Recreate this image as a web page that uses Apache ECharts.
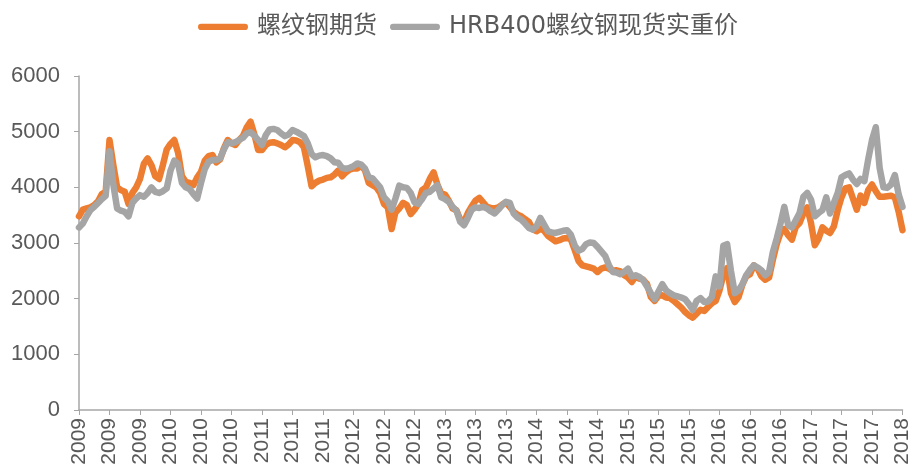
<!DOCTYPE html>
<html>
<head>
<meta charset="utf-8">
<title>螺纹钢期货与现货</title>
<script src="https://cdn.jsdelivr.net/npm/echarts@6/dist/echarts.min.js"></script>
<style>
	html, body { margin: 0; padding: 0; background: #fff; }
	#main { width: 913px; height: 473px; }
</style>
</head>
<body>
<div id="main"></div>
<script>
	var colorList = ['#ED7D31', '#A5A5A5'];
	var seriesNames = ['螺纹钢期货', 'HRB400螺纹钢现货实重价'];
	/*半月一个点, 2009年3月起*/
	var startYear = 2009;
	var startMonth = 3;
	var yTicks = [0, 1000, 2000, 3000, 4000, 5000, 6000];
	/* 螺纹钢期货 */
	var futures = [
		3480, 3600, 3620, 3640, 3680, 3750, 3880, 3920, 4850, 4400, 4000, 3950,
		3920, 3700, 3900, 4000, 4150, 4420, 4520, 4400, 4200, 4150, 4400, 4680,
		4780, 4850, 4620, 4200, 4100, 4080, 4040, 4180, 4280, 4480, 4560, 4580,
		4450, 4500, 4700, 4850, 4790, 4760, 4850, 4920, 5080, 5180, 4950, 4670,
		4670, 4760, 4800, 4810, 4790, 4760, 4720, 4770, 4850, 4840, 4810, 4720,
		4380, 4020, 4080, 4120, 4140, 4170, 4180, 4230, 4300, 4200, 4270, 4320,
		4340, 4340, 4390, 4310, 4080, 4040, 4000, 3900, 3700, 3640, 3250, 3550,
		3620, 3720, 3680, 3520, 3600, 3700, 3950, 4000, 4150, 4270, 4050, 3890,
		3870, 3760, 3620, 3590, 3420, 3380, 3540, 3660, 3760, 3810, 3730, 3650,
		3630, 3620, 3640, 3690, 3730, 3650, 3560, 3510, 3480, 3430, 3380, 3250,
		3210, 3260, 3220, 3130, 3080, 3030, 3050, 3080, 3090, 3070, 2880, 2680,
		2600, 2580, 2560, 2540, 2480, 2540, 2560, 2540, 2500, 2510, 2490, 2420,
		2380, 2300, 2400, 2360, 2340, 2260, 2030, 1960, 2050, 2060, 2020, 2010,
		1960, 1900, 1840, 1760, 1700, 1660, 1730, 1800, 1780, 1850, 1920, 1960,
		2150, 2420, 2550, 2100, 1940, 2030, 2250, 2400, 2440, 2600, 2540, 2400,
		2340, 2380, 2700, 2980, 3180, 3250, 3140, 3060, 3290, 3360, 3530, 3640,
		3360, 2960, 3080, 3280, 3220, 3180, 3300, 3590, 3820, 3980, 4000, 3800,
		3600, 3850, 3720, 3950, 4050, 3930, 3830, 3830, 3840, 3850, 3820, 3560, 3230
	];
	/* HRB400螺纹钢现货实重价 */
	var spot = [
		3280, 3350, 3480, 3590, 3650, 3720, 3790, 3850, 4650, 4050, 3620, 3580,
		3560, 3480, 3720, 3800, 3860, 3830, 3900, 4000, 3920, 3900, 3930, 3980,
		4300, 4480, 4420, 4080, 4000, 3970, 3880, 3800, 4080, 4330, 4460, 4490,
		4490, 4520, 4680, 4810, 4790, 4810, 4850, 4890, 4970, 4990, 4930, 4850,
		4760, 4940, 5040, 5050, 5030, 4970, 4920, 4950, 5030, 5000, 4960, 4920,
		4790, 4600, 4540, 4570, 4580, 4560, 4520, 4450, 4440, 4350, 4330, 4350,
		4380, 4430, 4410, 4340, 4180, 4160, 4080, 4000, 3820, 3750, 3600, 3800,
		4030, 4000, 3990, 3900, 3730, 3700, 3790, 3900, 3920, 3980, 4040, 3820,
		3790, 3740, 3650, 3580, 3380, 3320, 3450, 3600, 3640, 3630, 3650, 3620,
		3570, 3530, 3600, 3680, 3740, 3720, 3530, 3460, 3420, 3350, 3270, 3240,
		3300, 3450, 3330, 3210, 3190, 3180, 3200, 3220, 3230, 3150, 2960, 2860,
		2890, 2980, 3010, 3000, 2930, 2850, 2770, 2600, 2480, 2470, 2440, 2480,
		2540, 2400, 2420, 2390, 2330, 2220, 2100, 1990, 2130, 2260, 2150, 2100,
		2060, 2040, 2020, 1990, 1900, 1800, 1960, 2010, 1940, 1950, 2030, 2400,
		2220, 2950, 2980, 2500, 2100, 2150, 2260, 2420, 2520, 2600, 2560, 2510,
		2420, 2480, 2840, 3080, 3350, 3650, 3320, 3280, 3410, 3540, 3830, 3900,
		3780, 3480, 3540, 3590, 3820, 3530, 3720, 3900, 4180, 4220, 4250, 4140,
		4060, 4150, 4110, 4500, 4850, 5080, 4350, 4000, 3990, 4050, 4220, 3870, 3650
	];

	function createDates(n) {
		var result = [];
		for(var i = 0; i < n; i++) {
			var m = startMonth - 1 + Math.floor(i / 2);
			var y = startYear + Math.floor(m / 12);
			var mm = m % 12 + 1;
			result.push(y + '-' + (mm < 10 ? '0' + mm : mm) + (i % 2 ? '-16' : '-01'));
		}
		return result;
	}
	var dates = createDates(futures.length);

	function createSeries(list) {
		var result = [];
		for(var i = 0; i < list.length; i++) {
			result.push({
				name: seriesNames[i],
				type: 'line',
				symbol: 'none',
				smooth: false,
				data: list[i],
				itemStyle: { color: colorList[i] },
				lineStyle: {
					color: colorList[i],
					width: 6.5,
					cap: 'round',
					join: 'round'
				}
			});
		}
		return result;
	}

	var font = '"Liberation Sans", "Noto Sans CJK SC", sans-serif';
	// 图例用圆头粗线
	var legendIcon = 'path://M3,0L45,0A3,3,0,0,1,45,6L3,6A3,3,0,0,1,3,0Z';
	var option = {
		backgroundColor: '#ffffff',
		animation: false,
		legend: {
			top: 10,
			left: 193,
			icon: legendIcon,
			itemWidth: 50,
			itemHeight: 7,
			itemGap: 13,
			textStyle: {
				fontFamily: '"DejaVu Sans", "Noto Sans CJK SC", sans-serif',
				fontSize: 24,
				color: '#595959',
				padding: [0, 0, 0, 4]
			},
			data: seriesNames
		},
		grid: {
			left: 79,
			right: 2,
			top: 76,
			bottom: 63
		},
		xAxis: {
			type: 'category',
			boundaryGap: false,
			data: dates,
			axisLine: { lineStyle: { color: '#A6A6A6', width: 1.5 } },
			axisTick: { show: true, interval: 7, length: 5, lineStyle: { color: '#A6A6A6' } },
			axisLabel: {
				interval: 7,
				rotate: 90,
				margin: 8,
				fontSize: 21,
				fontFamily: font,
				color: '#595959',
				formatter: function(value) {
					return value.substring(0, 4);
				}
			},
			splitLine: { show: false }
		},
		yAxis: {
			type: 'value',
			min: yTicks[0],
			max: yTicks[yTicks.length - 1],
			interval: 1000,
			axisLine: { show: true, lineStyle: { color: '#A6A6A6', width: 1.5 } },
			axisTick: { show: true, length: 5, lineStyle: { color: '#A6A6A6' } },
			axisLabel: {
				margin: 19,
				fontSize: 22,
				fontFamily: font,
				color: '#595959',
				formatter: function(value) {
					return String(value);
				}
			},
			splitLine: { show: false }
		},
		series: createSeries([futures, spot])
	};

	function setInit(id, option) {
		var Chart = echarts.init(document.getElementById(id));
		Chart.setOption(option);
		window.addEventListener('resize', function() {
			Chart.resize();
		});
	}
	setInit('main', option);
</script>
</body>
</html>
